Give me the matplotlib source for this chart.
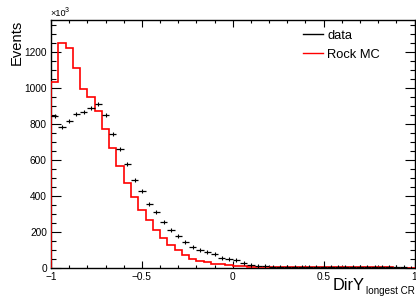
import numpy as np
import matplotlib
matplotlib.use("Agg")
import matplotlib.pyplot as plt
from matplotlib.lines import Line2D
from matplotlib.ticker import MultipleLocator, FixedLocator

plt.rcParams['font.family'] = ['Liberation Sans', 'DejaVu Sans']

# 50 bins from -1 to 1 (values in units of 10^3 events)
bin_edges = np.linspace(-1.0, 1.0, 51)
data_values = [847, 782, 815, 858, 868, 892, 909, 849, 743, 663,
               575, 486, 425, 356, 309, 251, 211, 173, 141, 116,
               99, 88, 73, 54, 45, 41, 24, 15, 11, 6,
               4, 3, 2, 1.5, 1, 0.8, 0.6, 0.5, 0.4, 0.3,
               0.25, 0.2, 0.15, 0.1, 0.1, 0.05, 0.05, 0.02, 0.01, 0.0]
rock_mc = [1035, 1250, 1222, 1113, 994, 950, 873, 771, 665, 564,
           471, 393, 322, 267, 209, 166, 123, 95, 69, 50,
           35, 28, 21, 17, 13, 9, 6, 4, 3, 2,
           1.5, 1, 0.8, 0.6, 0.5, 0.4, 0.3, 0.2, 0.15, 0.1,
           0.1, 0.05, 0.05, 0.02, 0.02, 0.01, 0.01, 0.0, 0.0, 0.0]
xtick_values = [-1, -0.5, 0, 0.5, 1]
xtick_labels = ['\u22121', '\u22120.5', '0', '0.5', '1']
ytick_values = [0, 200, 400, 600, 800, 1000, 1200]
legend_labels = ['data', 'Rock MC']

W, H = 416, 297
fig = plt.figure(figsize=(W / 100, H / 100), dpi=100)
L, R, T, B = 51, 414.5, 20, 267.5
ax = fig.add_axes([L / W, 1 - B / H, (R - L) / W, (B - T) / H])

centers = 0.5 * (bin_edges[:-1] + bin_edges[1:])
half = 0.5 * (bin_edges[1] - bin_edges[0])

ax.stairs(rock_mc, bin_edges, baseline=0, color='red', lw=1.2, zorder=3)
ax.errorbar(centers, data_values, xerr=half, fmt='|', color='black',
            ecolor='black', elinewidth=0.9, markersize=2.6, mew=0.8, zorder=4)

ax.set_xlim(-1, 1)
ax.set_ylim(0, 1380)

ax.xaxis.set_major_locator(FixedLocator(xtick_values))
ax.set_xticklabels(xtick_labels)
ax.xaxis.set_minor_locator(MultipleLocator(0.1))
ax.yaxis.set_major_locator(FixedLocator(ytick_values))
ax.set_yticklabels([str(v) for v in ytick_values])
ax.yaxis.set_minor_locator(MultipleLocator(50))

ax.tick_params(which='both', direction='in', top=True, right=True,
               width=0.8, labelsize=7.3)
ax.tick_params(axis='x', which='major', length=5, pad=3.5)
ax.tick_params(axis='x', which='minor', length=2.5)
ax.tick_params(axis='y', which='major', length=7, pad=3)
ax.tick_params(axis='y', which='minor', length=3.6)
for s in ax.spines.values():
    s.set_linewidth(1.0)

# labels
fig.text(16.5 / W, 1 - 20 / H, 'Events', rotation=90, ha='center', va='top',
         fontsize=10.6)
fig.text(365 / W, 1 - 289.5 / H, 'DirY', ha='right', va='baseline',
         fontsize=11.8)
fig.text(415 / W, 1 - 294.5 / H, 'longest CR', ha='right', va='baseline',
         fontsize=7.1)
fig.text(50 / W, 1 - 16.5 / H, '\u00d710', ha='left', va='baseline',
         fontsize=6.6)
fig.text(64.5 / W, 1 - 12 / H, '3', ha='left', va='baseline', fontsize=5)

handles = [Line2D([], [], color='black', lw=1.0),
           Line2D([], [], color='red', lw=1.0)]
fig.legend(handles, legend_labels, loc='upper left',
           bbox_to_anchor=(300 / W, 1 - 27 / H), frameon=False,
           fontsize=9.3, handlelength=1.55, handletextpad=0.35,
           labelspacing=0.55, borderpad=0.2, borderaxespad=0)

fig.savefig('out.png', dpi=100)
